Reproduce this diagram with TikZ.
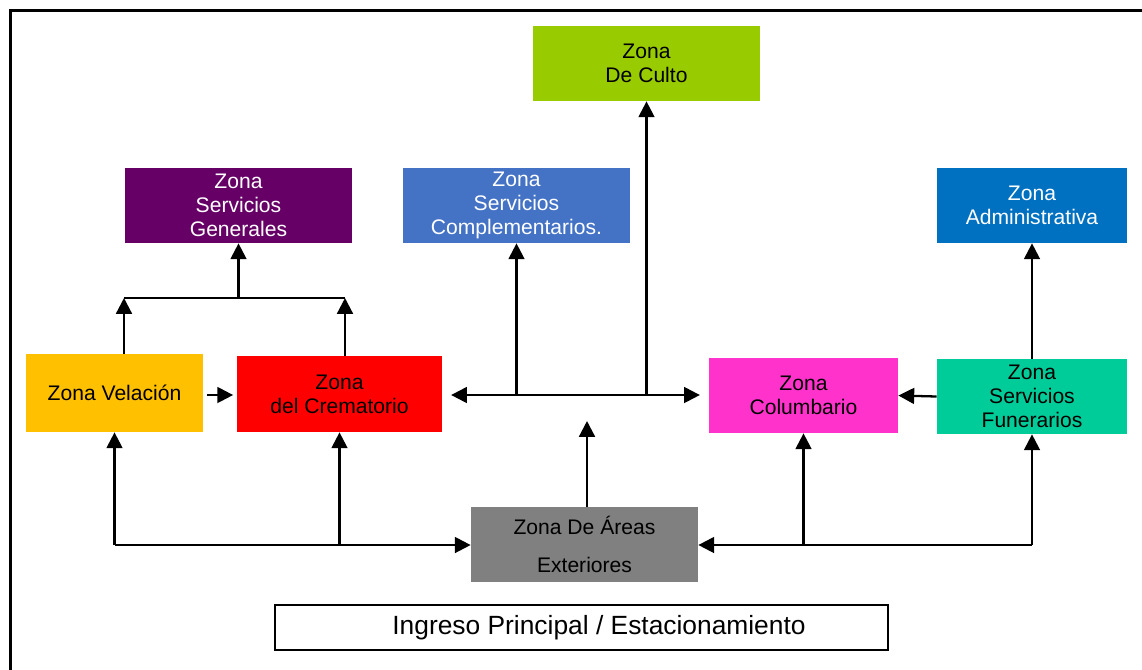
\documentclass[tikz,border=0pt]{standalone}
\usepackage{fontspec}
\setmainfont{Liberation Sans}
\usepackage{tikz}
\usetikzlibrary{arrows.meta, positioning, calc}
\usepackage{xcolor}
\definecolor{CCu}{RGB}{153,204,0}
\definecolor{CGe}{RGB}{102,0,102}
\definecolor{CCo}{RGB}{68,114,196}
\definecolor{CAd}{RGB}{0,112,192}
\definecolor{CVe}{RGB}{255,192,0}
\definecolor{CCr}{RGB}{255,0,0}
\definecolor{CCl}{RGB}{255,51,204}
\definecolor{CFu}{RGB}{0,204,153}
\definecolor{CEx}{RGB}{128,128,128}

\begin{document}
\begin{tikzpicture}[
  zona/.style={fill=#1, minimum width=4.54cm, minimum height=1.5cm,
               align=center, inner sep=2pt,
               font=\fontsize{12}{13.5}\selectfont},
  zonaw/.style={zona=#1, text=white},
  arr/.style={-{Triangle[length=9pt,width=9pt]}, line width=1.3pt},
  arrb/.style={{Triangle[length=9pt,width=9pt]}-{Triangle[length=9pt,width=9pt]}, line width=1.3pt},
  lin/.style={line width=1.3pt}
]
\useasboundingbox (0,0) rectangle (22.84,-13.38);
% outer frame
\draw[line width=1.6pt] (0.21,-13.6) -- (0.21,-0.21) -- (23.1,-0.21);

% Zones
\node[zona=CCu] (cult) at (12.93,-1.27) {Zona\\De Culto};
\node[zonaw=CGe] (gen) at (4.77,-4.11) {Zona\\Servicios\\Generales};
\node[zonaw=CCo] (comp) at (10.33,-4.11) {Zona\\Servicios\\Complementarios.};
\node[zonaw=CAd, minimum width=3.8cm] (adm) at (20.64,-4.11) {Zona\\Administrativa};
\node[zona=CVe, minimum width=3.54cm, minimum height=1.56cm] (vel) at (2.29,-7.86) {Zona Velación};
\node[zona=CCr, minimum width=4.1cm, minimum height=1.52cm] (crem) at (6.79,-7.88) {Zona\\del Crematorio};
\node[zona=CCl, minimum width=3.78cm] (col) at (16.07,-7.91) {Zona\\Columbario};
\node[zona=CFu, minimum width=3.8cm] (fun) at (20.64,-7.93) {Zona\\Servicios\\Funerarios};
\node[zona=CEx] (ext) at (11.69,-10.89) {Zona De Áreas\\[8pt]Exteriores};
\node[draw, line width=0.9pt, minimum width=12.26cm, minimum height=0.9cm,
      font=\fontsize{15}{17}\selectfont] (ing) at (11.63,-12.55)
  {\hspace*{0.7cm}Ingreso Principal / Estacionamiento};

% Junction points
\coordinate (tl) at (2.48,-5.96);
\coordinate (tr) at (6.90,-5.96);
\coordinate (mid) at (0,-7.90);
\coordinate (bl) at (0,-10.90);
\coordinate (exttip) at (11.74,-8.42);

% Velacion / Crematorio -> Servicios Generales
\draw[arr, shorten <=2pt, shorten >=2pt] (vel.east |- mid) -- (crem.west |- mid);
\draw[arr] (tl |- vel.north) -- (tl);
\draw[arr] (tr |- crem.north) -- (tr);
\draw[lin] (tl) -- (tr);
\draw[arr] (gen.south |- tl) -- (gen.south);

% Crematorio <-> Columbario
\draw[arrb, shorten <=5pt, shorten >=5pt] (crem.east |- mid) -- (col.west |- mid);
\draw[arr] (comp.south |- mid) -- (comp.south);
\draw[arr] (cult.south |- mid) -- (cult.south);
\draw[arr] (exttip |- ext.north) -- (exttip);

% Areas Exteriores
\draw[arr] (vel.south |- bl) -- (ext.west |- bl);
\draw[arr] (vel.south |- bl) -- (vel.south);
\draw[arr] (crem.south |- bl) -- (crem.south);
\draw[arr] (fun.south |- bl) -- (ext.east |- bl);
\draw[arr] (fun.south |- bl) -- (fun.south);
\draw[arr] (col.south |- bl) -- (col.south);

% Servicios Funerarios
\draw[arr] (fun.west) -- (col.east);
\draw[arr] (fun.north) -- (adm.south);
\end{tikzpicture}
\end{document}
